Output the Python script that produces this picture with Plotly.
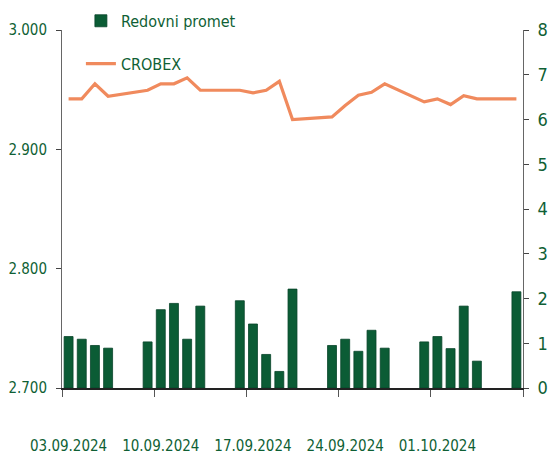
import plotly.graph_objects as go

# Trading days (ISO dates)
dates = ["2024-09-03", "2024-09-04", "2024-09-05", "2024-09-06",
         "2024-09-09", "2024-09-10", "2024-09-11", "2024-09-12", "2024-09-13",
         "2024-09-16", "2024-09-17", "2024-09-18", "2024-09-19", "2024-09-20",
         "2024-09-23", "2024-09-24", "2024-09-25", "2024-09-26", "2024-09-27",
         "2024-09-30", "2024-10-01", "2024-10-02", "2024-10-03", "2024-10-04",
         "2024-10-07"]

# Redovni promet (right axis, mil. EUR)
promet = [1.15, 1.09, 0.95, 0.89,
          1.03, 1.75, 1.89, 1.09, 1.83,
          1.95, 1.43, 0.75, 0.37, 2.21,
          0.95, 1.09, 0.82, 1.29, 0.89,
          1.03, 1.15, 0.88, 1.83, 0.60,
          2.15]

# CROBEX (left axis)
crobex = [2942.3, 2942.3, 2954.9, 2944.5,
          2949.5, 2954.9, 2954.9, 2959.9, 2949.5,
          2949.5, 2947.3, 2949.5, 2957.0, 2924.9,
          2927.2, 2936.7, 2945.3, 2947.8, 2954.9,
          2939.8, 2942.3, 2937.5, 2945.0, 2942.3,
          2942.3]

label_dates = ["2024-09-03", "2024-09-10", "2024-09-17", "2024-09-24", "2024-10-01"]
label_text = ["03.09.2024", "10.09.2024", "17.09.2024", "24.09.2024", "01.10.2024"]

left_ticks = [2700, 2800, 2900, 3000]
right_ticks = [0, 1, 2, 3, 4, 5, 6, 7, 8]

GREEN = "#0f5f35"
FONT = "DejaVu Sans Condensed, Liberation Sans Narrow, Arial Narrow, sans-serif"

fig = go.Figure()
fig.add_trace(go.Bar(
    x=dates, y=promet, name="Redovni promet", yaxis="y2",
    marker=dict(color="#0b5c35", line=dict(color="#07442a", width=0.8)),
    legendgroup="a",
))
fig.add_trace(go.Scatter(
    x=dates, y=crobex, name="CROBEX", mode="lines", yaxis="y",
    line=dict(color="#f08a5d", width=3.2),
    legendgroup="b",
))

fig.update_layout(
    width=548, height=462,
    margin=dict(l=62, r=25, t=30, b=74, autoexpand=False),
    paper_bgcolor="white", plot_bgcolor="white",
    separators=",.",
    bargap=0.32,
    font=dict(family=FONT, size=16, color=GREEN),
    showlegend=True,
    legend=dict(x=0.041, y=1.073, xanchor="left", yanchor="top",
                bgcolor="rgba(0,0,0,0)", font=dict(size=16, color=GREEN),
                traceorder="grouped", tracegroupgap=19, itemwidth=30),
    xaxis=dict(
        type="date", automargin=False,
        range=["2024-09-02 12:00", "2024-10-07 12:00"],
        tickmode="array", tickvals=label_dates, ticktext=label_text,
        ticks="", ticklabelstandoff=43, tickangle=0,
        showline=True, linecolor="#222", linewidth=1.5,
        showgrid=False, zeroline=False,
        tickfont=dict(size=15, color=GREEN),
        minor=dict(tickmode="linear", tick0="2024-09-02 12:00", dtick=7 * 86400000,
                   ticks="outside", ticklen=7, tickcolor="#555", tickwidth=1,
                   showgrid=False),
    ),
    yaxis=dict(
        range=[2700, 3000], tickmode="array", tickvals=left_ticks, automargin=False,
        tickformat=",.0f", ticks="outside", ticklen=5, tickcolor="#444",
        showline=True, linecolor="#666", linewidth=1,
        showgrid=False, zeroline=False, ticklabelstandoff=6,
        tickfont=dict(size=15, color=GREEN), ticklabeloverflow="allow",
    ),
    yaxis2=dict(
        range=[0, 8], overlaying="y", side="right", tickmode="array", automargin=False,
        tickvals=right_ticks, ticks="outside", ticklen=5, tickcolor="#444",
        showline=True, linecolor="#666", linewidth=1,
        showgrid=False, zeroline=False, ticklabelstandoff=5,
        tickfont=dict(size=18, color=GREEN), ticklabeloverflow="allow",
    ),
)

# remove the browser's default 8px body margin so the figure fills the window
fig.write_html("out.html",
               config={"displayModeBar": False},
               post_script="document.body.style.margin='0';document.body.style.overflow='hidden';")
